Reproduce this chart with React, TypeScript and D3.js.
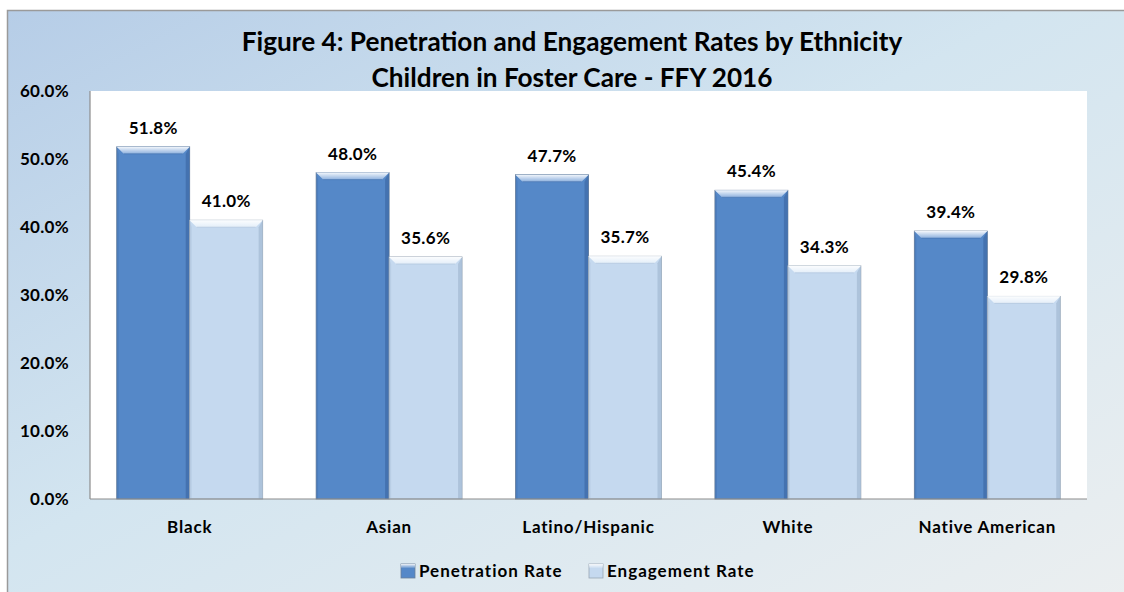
import * as d3 from 'd3';

const categories = ['Black', 'Asian', 'Latino/Hispanic', 'White', 'Native American'];
const penetration = [51.8, 48.0, 47.7, 45.4, 39.4];
const engagement = [41.0, 35.6, 35.7, 34.3, 29.8];
const seriesNames = ['Penetration Rate', 'Engagement Rate'];
const yTicks = [0, 10, 20, 30, 40, 50, 60];

const W = 1124;
const H = 592;
const FONT = 'Lato, "Open Sans", "DejaVu Sans", sans-serif';

const plot = { left: 90, top: 91, right: 1087, bottom: 499 };

const colors = [
  { base: '#5588c8', light: '#8db2e0', dark: '#3d6aa5', edge: '#6a7f99' },
  { base: '#c5d9ef', light: '#e6f0fa', dark: '#a2b9d3', edge: '#9aa7b5' },
];

function Bar({ x, y, w, h, c }: { x: number; y: number; w: number; h: number; c: typeof colors[0] }) {
  const b = 7;
  return (
    <g>
      <rect x={x} y={y} width={w} height={h} fill={c.base} stroke={c.edge} strokeWidth={0.8} />
      {/* right dark side */}
      <polygon points={`${x + w},${y} ${x + w - 4},${y + b} ${x + w - 4},${y + h} ${x + w},${y + h}`} fill={c.dark} opacity={0.7} />
      {/* left side */}
      <polygon points={`${x},${y} ${x + 2},${y + b} ${x + 2},${y + h} ${x},${y + h}`} fill={c.dark} opacity={0.35} />
      {/* top bevel */}
      <polygon points={`${x},${y} ${x + w},${y} ${x + w - 7},${y + b} ${x + 7},${y + b}`} fill={c.light} opacity={0.8} />
      <polygon points={`${x},${y} ${x + w},${y} ${x + w - 7},${y + b} ${x + 7},${y + b}`} fill="url(#bevel)" />
      <line x1={x + 7} x2={x + w - 7} y1={y + b} y2={y + b} stroke={c.dark} strokeWidth={0.8} opacity={0.6} />
    </g>
  );
}

export default function App() {
  const x0 = d3
    .scaleBand<string>()
    .domain(categories)
    .range([plot.left, plot.right])
    .paddingInner(0.268)
    .paddingOuter(0.134);
  const x1 = d3.scaleBand<number>().domain([0, 1]).range([0, x0.bandwidth()]);
  const y = d3.scaleLinear().domain([0, 60]).range([plot.bottom, plot.top]);
  const series = [penetration, engagement];

  return (
    <svg width={W} height={H} style={{ position: 'fixed', left: 0, top: 0 }} fontFamily={FONT}>
      <defs>
        <linearGradient id="bg" x1="0" y1="0" x2="1" y2="1">
          <stop offset="0%" stopColor="#b6cde7" />
          <stop offset="45%" stopColor="#d3e5f0" />
          <stop offset="100%" stopColor="#eceff0" />
        </linearGradient>
        <linearGradient id="bevel" x1="0" y1="0" x2="0" y2="1">
          <stop offset="0%" stopColor="#ffffff" stopOpacity={0.9} />
          <stop offset="100%" stopColor="#ffffff" stopOpacity={0.1} />
        </linearGradient>
      </defs>
      <rect x={0} y={0} width={W} height={H} fill="#ffffff" />
      <rect x={7.5} y={10.5} width={W + 10} height={H + 10} fill="url(#bg)" stroke="#9a9a9a" strokeWidth={1.5} />

      <text x={572} y={51} textAnchor="middle" fontSize={26.2} fontWeight="bold" fill="#000">
        Figure 4: Penetration and Engagement Rates by Ethnicity
      </text>
      <text x={572} y={87} textAnchor="middle" fontSize={26.2} fontWeight="bold" fill="#000">
        Children in Foster Care - FFY 2016
      </text>

      <rect x={plot.left} y={plot.top} width={plot.right - plot.left} height={plot.bottom - plot.top} fill="#ffffff" />
      <line x1={plot.left} x2={plot.left} y1={plot.top} y2={plot.bottom} stroke="#8c8c8c" strokeWidth={1.2} />

      {yTicks.map((t) => (
        <text key={t} x={69} y={y(t)} dy="0.35em" textAnchor="end" fontSize={17} fontWeight="bold" fill="#000" letterSpacing={0.3}>
          {t.toFixed(1)}%
        </text>
      ))}

      {categories.map((cat, i) => (
        <g key={cat}>
          {series.map((s, si) => {
            const bx = (x0(cat) ?? 0) + (x1(si) ?? 0);
            const bw = x1.bandwidth();
            return (
              <g key={si}>
                <Bar x={bx} y={y(s[i])} w={bw} h={plot.bottom - y(s[i])} c={colors[si]} />
                <text x={bx + bw / 2} y={y(s[i]) - 13} textAnchor="middle" fontSize={17} fontWeight="bold" fill="#000" letterSpacing={0.3}>
                  {s[i].toFixed(1)}%
                </text>
              </g>
            );
          })}
          <text x={(x0(cat) ?? 0) + x0.bandwidth() / 2} y={527} dy="0.35em" textAnchor="middle" fontSize={17} fontWeight="bold" fill="#000" letterSpacing={0.8}>
            {cat}
          </text>
        </g>
      ))}

      <line x1={plot.left} x2={plot.right} y1={plot.bottom} y2={plot.bottom} stroke="#8c8c8c" strokeWidth={1.2} />

      {seriesNames.map((name, i) => {
        const lx = i === 0 ? 401 : 589;
        return (
          <g key={name}>
            <rect x={lx} y={564} width={14} height={14} fill={colors[i].base} stroke={colors[i].edge} strokeWidth={0.8} />
            <rect x={lx} y={564} width={14} height={4} fill="url(#bevel)" />
            <text x={lx + 18} y={571} dy="0.35em" fontSize={17} fontWeight="bold" fill="#000" letterSpacing={1}>
              {name}
            </text>
          </g>
        );
      })}
    </svg>
  );
}
